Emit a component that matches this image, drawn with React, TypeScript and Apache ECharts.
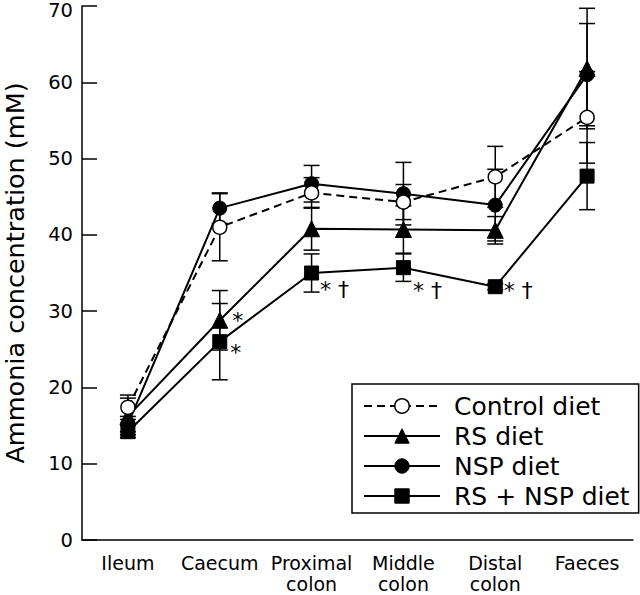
import { useEffect, useRef } from 'react';
import * as echarts from 'echarts';

const categories = ['Ileum', 'Caecum', 'Proximal\ncolon', 'Middle\ncolon', 'Distal\ncolon', 'Faeces'];
const yMin = 0;
const yMax = 70;
const yStep = 10;

const controlMean = [17.4, 41.0, 45.5, 44.3, 47.6, 55.4];
const controlErr = [1.6, 4.4, 2.0, 2.3, 4.0, 6.0];
const rsMean = [16.2, 28.8, 40.8, 40.7, 40.6, 61.8];
const rsErr = [2.4, 3.9, 2.8, 3.1, 1.8, 7.9];
const nspMean = [15.2, 43.5, 46.7, 45.4, 43.9, 61.0];
const nspErr = [1.0, 2.0, 2.4, 4.1, 4.7, 6.7];
const rsNspMean = [14.2, 26.0, 35.0, 35.7, 33.2, 47.7];
const rsNspErr = [0.8, 5.0, 2.5, 1.8, 0.4, 4.4];

const rsMarks = ['', '*', '', '', '', ''];
const rsNspMarks = ['', '*', '* †', '* †', '* †', ''];

const seriesNames = ['Control diet', 'RS diet', 'NSP diet', 'RS + NSP diet'];

// label offsets (styling only)
const rsMarkOffset = [[0, 0], [-1, 0], [0, 0], [0, 0], [0, 0], [0, 0]];
const rsNspMarkOffset = [[0, 0], [-2, 11], [-4, 16], [-3, 23], [-4, 4], [0, 0]];

const FONT = 'DejaVu Sans, Liberation Sans, Arial, sans-serif';

const markLabelBase = {
  position: 'right',
  distance: 5,
  fontSize: 22,
  color: '#000',
  fontFamily: FONT,
};

function withMarks(values: number[], marks: string[], offsets: number[][]) {
  return values.map((v, i) =>
    marks[i]
      ? {
          value: v,
          label: { ...markLabelBase, show: true, formatter: marks[i], offset: offsets[i] },
        }
      : v
  );
}

function errData(mean: number[], err: number[]) {
  return mean.map((m, i) => [i, m - err[i], m + err[i]]);
}

const errRender = (params: any, api: any) => {
  const x = api.value(0);
  const lo = api.coord([x, api.value(1)]);
  const hi = api.coord([x, api.value(2)]);
  const w = 8;
  const style = { stroke: '#000', lineWidth: 1.5 };
  return {
    type: 'group',
    children: [
      { type: 'line', shape: { x1: lo[0], y1: lo[1], x2: hi[0], y2: hi[1] }, style },
      { type: 'line', shape: { x1: lo[0] - w, y1: lo[1], x2: lo[0] + w, y2: lo[1] }, style },
      { type: 'line', shape: { x1: hi[0] - w, y1: hi[1], x2: hi[0] + w, y2: hi[1] }, style },
    ],
  };
};

export default function App() {
  const ref = useRef<HTMLDivElement>(null);
  useEffect(() => {
    if (!ref.current) return;
    const chart = echarts.init(ref.current, undefined, { renderer: 'svg' });
    const solid = { color: '#000', width: 2, type: 'solid' as const };
    const dashed = { color: '#000', width: 2, type: [8, 5] as any };
    const filled = { color: '#000', borderColor: '#000', borderWidth: 1 };
    const open = { color: '#fff', borderColor: '#000', borderWidth: 1.5 };
    const errSeries = (mean: number[], err: number[]) => ({
      type: 'custom',
      renderItem: errRender,
      data: errData(mean, err),
      z: 1,
      silent: true,
      encode: { x: 0, y: [1, 2] },
    });
    chart.setOption({
      animation: false,
      backgroundColor: '#fff',
      color: ['#000'],
      textStyle: { fontFamily: FONT },
      grid: { left: 82, right: 7, top: 6, bottom: 55, containLabel: false, outerBoundsMode: 'none' },
      legend: {
        orient: 'vertical',
        left: 352,
        top: 384,
        padding: [9, 9, 4, 11],
        itemWidth: 76,
        itemHeight: 18,
        itemGap: 4,
        borderColor: '#000',
        borderWidth: 1.5,
        backgroundColor: '#fff',
        textStyle: { fontSize: 25, color: '#000', fontFamily: FONT, lineHeight: 26, padding: [0, 0, 0, 9] },
        data: [
          { name: seriesNames[0], itemStyle: open, lineStyle: dashed },
          { name: seriesNames[1], itemStyle: filled, lineStyle: solid },
          { name: seriesNames[2], itemStyle: filled, lineStyle: solid },
          { name: seriesNames[3], itemStyle: filled, lineStyle: solid },
        ],
      },
      xAxis: {
        type: 'category',
        data: categories,
        boundaryGap: true,
        axisLine: { lineStyle: { color: '#000', width: 1.5 } },
        axisTick: { inside: true, length: 15, alignWithLabel: true, lineStyle: { color: '#000', width: 1.5 } },
        axisLabel: { interval: 0, fontSize: 19, lineHeight: 21, color: '#000', margin: 12, fontFamily: FONT },
        splitLine: { show: false },
      },
      yAxis: {
        type: 'value',
        min: yMin,
        max: yMax,
        interval: yStep,
        name: 'Ammonia concentration (mM)',
        nameLocation: 'middle',
        nameGap: 56,
        nameTextStyle: { fontSize: 25.5, lineHeight: 22, color: '#000', fontFamily: FONT },
        axisLine: { show: true, lineStyle: { color: '#000', width: 1.5 } },
        axisTick: { show: true, inside: true, length: 15, lineStyle: { color: '#000', width: 1.5 } },
        axisLabel: {
          fontSize: 19.5,
          lineHeight: 14,
          color: '#000',
          margin: 9,
          fontFamily: FONT,
          formatter: (v: number) => (v === yMax ? '{top|' + v + '}' : String(v)),
          rich: { top: { fontSize: 19.5, lineHeight: 14, padding: [9, 0, 0, 0], fontFamily: FONT, color: '#000' } },
        },
        splitLine: { show: false },
      },
      series: [
        errSeries(controlMean, controlErr),
        errSeries(rsMean, rsErr),
        errSeries(nspMean, nspErr),
        errSeries(rsNspMean, rsNspErr),
        {
          name: seriesNames[2],
          type: 'line',
          data: nspMean,
          symbol: 'circle',
          symbolSize: 14,
          lineStyle: solid,
          itemStyle: filled,
          z: 2,
        },
        {
          name: seriesNames[1],
          type: 'line',
          data: withMarks(rsMean, rsMarks, rsMarkOffset),
          symbol: 'triangle',
          symbolSize: 16,
          lineStyle: solid,
          itemStyle: filled,
          label: { ...markLabelBase, show: false },
          z: 3,
        },
        {
          name: seriesNames[3],
          type: 'line',
          data: withMarks(rsNspMean, rsNspMarks, rsNspMarkOffset),
          symbol: 'rect',
          symbolSize: 14,
          lineStyle: solid,
          itemStyle: filled,
          label: { ...markLabelBase, show: false },
          z: 3,
        },
        {
          name: seriesNames[0],
          type: 'line',
          data: controlMean,
          symbol: 'circle',
          symbolSize: 14,
          lineStyle: dashed,
          itemStyle: open,
          z: 4,
        },
      ],
    });
    return () => chart.dispose();
  }, []);
  return <div ref={ref} style={{ width: 640, height: 595, position: 'absolute', left: 0, top: 0 }} />;
}
